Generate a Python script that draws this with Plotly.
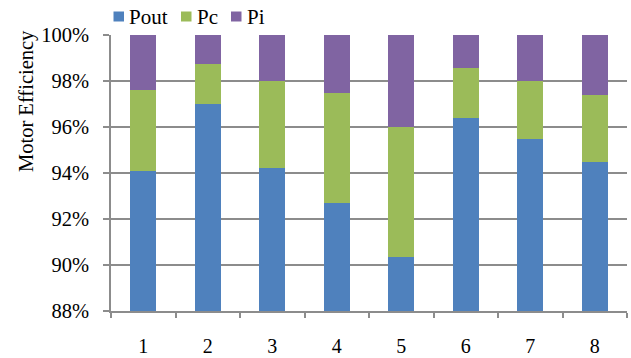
import plotly.graph_objects as go

categories = ["1", "2", "3", "4", "5", "6", "7", "8"]
pout = [94.1, 97.0, 94.2, 92.7, 90.35, 96.4, 95.5, 94.5]
pc = [3.5, 1.75, 3.8, 4.8, 5.65, 2.17, 2.5, 2.9]
pi = [2.4, 1.25, 2.0, 2.5, 4.0, 1.43, 2.0, 2.6]
y_ticks = [88, 90, 92, 94, 96, 98, 100]
y_tick_labels = ["88%", "90%", "92%", "94%", "96%", "98%", "100%"]
series_names = ["Pout", "Pc", "Pi"]
series_colors = ["#4f81bd", "#9bbb59", "#8064a2"]

FONT = "Liberation Serif"
GRID = "#8c8c8c"
W, H = 631, 358
L, R, T, B = 111, 4, 35, 47
PW, PH = W - L - R, H - T - B


def px_x(p):
    return (p - L) / PW


def px_y(p):
    return (H - B - p) / PH


fig = go.Figure()
for name, vals, col in zip(series_names, [pout, pc, pi], series_colors):
    fig.add_bar(x=categories, y=vals, name=name, showlegend=False,
                marker=dict(color=col, line=dict(width=0)))

# legend drawn as swatches + labels in the top margin
legend_sq_left = [113.5, 181.0, 231.0]
legend_txt_left = [127.0, 194.5, 244.5]
shapes, annotations = [], []
for name, col, sx, tx in zip(series_names, series_colors, legend_sq_left, legend_txt_left):
    shapes.append(dict(type="rect", xref="paper", yref="paper",
                       x0=px_x(sx), x1=px_x(sx + 10.5), y0=px_y(21.5), y1=px_y(11.5),
                       fillcolor=col, line=dict(width=0)))
    annotations.append(dict(text=name, xref="paper", yref="paper", x=px_x(tx), y=px_y(17),
                            xanchor="left", yanchor="middle", showarrow=False,
                            font=dict(size=21, family=FONT, color="black")))

annotations.append(dict(text="Motor Efficiency", textangle=-90, xref="paper", yref="paper",
                        x=px_x(27), y=px_y(101), xanchor="center", yanchor="middle",
                        showarrow=False, font=dict(size=20.5, family=FONT, color="black")))

fig.update_layout(
    width=W, height=H,
    barmode="stack", bargap=0.6,
    margin=dict(l=L, r=R, t=T, b=B, autoexpand=False),
    paper_bgcolor="white", plot_bgcolor="white",
    font=dict(family=FONT, size=20, color="black"),
    xaxis=dict(type="category", showline=True, linecolor=GRID, linewidth=1.5,
               ticks="outside", ticklen=5, tickcolor=GRID, tickwidth=1.5,
               tickson="boundaries", showgrid=False, ticklabelstandoff=16,
               tickfont=dict(size=20, family=FONT, color="black")),
    yaxis=dict(range=[88, 100], tickvals=y_ticks, ticktext=y_tick_labels,
               showline=True, linecolor=GRID, linewidth=1.5,
               ticks="outside", ticklen=6, tickcolor=GRID, tickwidth=1.5,
               showgrid=True, gridcolor=GRID, gridwidth=1.5, ticklabelstandoff=10,
               zeroline=False, tickfont=dict(size=20.5, family=FONT, color="black")),
    shapes=shapes,
    annotations=annotations,
)

fig.write_html("out.html", config={"displayModeBar": False},
               post_script="document.body.style.margin='0';document.body.style.overflow='hidden';")
